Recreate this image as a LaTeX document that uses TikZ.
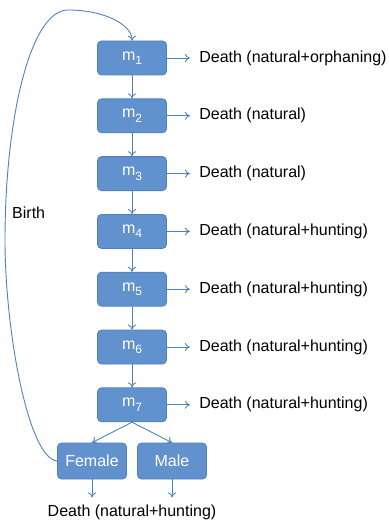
\documentclass[tikz,border=0pt]{standalone}
\usepackage{fontspec}
\setmainfont{Liberation Sans}
\usetikzlibrary{arrows.meta}

\definecolor{boxfill}{RGB}{98,146,206}
\definecolor{boxline}{RGB}{79,129,189}
\newcommand{\agesub}[1]{\raisebox{-4.5pt}{\fontsize{12}{12}\selectfont #1}}

\begin{document}
\begin{tikzpicture}[x=1pt,y=-1pt]
% Diagram style
\tikzset{
    mbox/.style={rectangle, rounded corners=4pt, draw=boxline, fill=boxfill,
        line width=0.8pt, minimum width=69pt, minimum height=34pt,
        text=white, font=\fontsize{16}{18}\selectfont},
    flow/.style={draw=boxline, line width=0.9pt, -{To[length=5pt,width=8pt]}},
    death/.style={right, inner sep=0pt, xshift=9pt, font=\fontsize{16}{18}\selectfont}
}
\useasboundingbox (0,0) rectangle (388,524);

% Age classes
\node[mbox] (m1) at (132,58){m\agesub{1}};
\node[mbox] (m2) at (132,115.8){m\agesub{2}};
\node[mbox] (m3) at (132,173.6){m\agesub{3}};
\node[mbox] (m4) at (132,231.4){m\agesub{4}};
\node[mbox] (m5) at (132,289.2){m\agesub{5}};
\node[mbox] (m6) at (132,347){m\agesub{6}};
\node[mbox] (m7) at (132,404.8){m\agesub{7}};
\node[mbox, minimum height=36pt] (female) at (92,461){Female};
\node[mbox, minimum height=36pt] (male) at (172,461){Male};

% Ageing
\draw[flow] (m1) -- (m2);
\draw[flow] (m2) -- (m3);
\draw[flow] (m3) -- (m4);
\draw[flow] (m4) -- (m5);
\draw[flow] (m5) -- (m6);
\draw[flow] (m6) -- (m7);
\draw[flow] (m7.south) -- (female.north);
\draw[flow] (m7.south) -- (male.north);

% Death
\draw[flow] (m1.east) -- ++(23,0) node[death](d1){Death (natural+orphaning)};
\draw[flow] (m2.east) -- ++(23,0) node[death](d2){Death (natural)};
\draw[flow] (m3.east) -- ++(23,0) node[death](d3){Death (natural)};
\draw[flow] (m4.east) -- ++(23,0) node[death](d4){Death (natural+hunting)};
\draw[flow] (m5.east) -- ++(23,0) node[death](d5){Death (natural+hunting)};
\draw[flow] (m6.east) -- ++(23,0) node[death](d6){Death (natural+hunting)};
\draw[flow] (m7.east) -- ++(23,0) node[death](d7){Death (natural+hunting)};
\node[font=\fontsize{16}{18}\selectfont, inner sep=0pt] (dadult) at (132,512){Death (natural+hunting)};
\draw[flow] (female.south) -- ++(0,18);
\draw[flow] (male.south) -- ++(0,18);

% Birth
\draw[flow] (female.west) .. controls (28,458) and (5,330) .. (5,240)
    .. controls (5,120) and (30,10) .. (68,10)
    .. controls (105,10) and (132,25) .. (m1.north);
\node[font=\fontsize{16}{18}\selectfont, anchor=west, inner sep=0pt] (birth) at (12,213){Birth};
\end{tikzpicture}
\end{document}
